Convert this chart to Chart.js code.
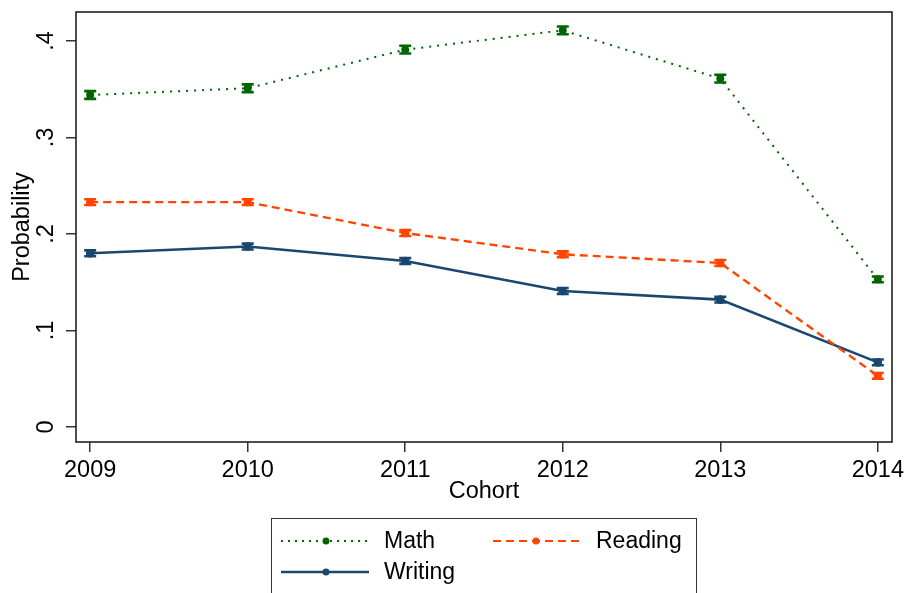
<!DOCTYPE html>
<html>
<head>
<meta charset="utf-8">
<script src="https://cdn.jsdelivr.net/npm/chart.js@4.4.1/dist/chart.umd.min.js"></script>
<style>
    body { margin: 0; background: #fff; }
    .wrap { position: relative; width: 906px; height: 593px; overflow: hidden; font-family: 'Liberation Sans', Arial, sans-serif; }
    .legenda { position: absolute; left: 271px; top: 518px; width: 424px; height: 90px; border: 1px solid #333; }
    .amostra { position: absolute; }
    .rotulo { position: absolute; font-size: 23px; line-height: 23px; color: #000; }
</style>
</head>
<body>
<div class="wrap">
    <canvas id="grafico" width="906" height="593"></canvas>
    <div class="legenda"></div>
    <svg class="amostra" style="left:281px;top:536px" width="88" height="10">
        <line x1="0" y1="5" x2="88" y2="5" stroke="#006400" stroke-width="2" stroke-dasharray="2 5"/>
        <circle cx="45" cy="5" r="3.5" fill="#006400"/>
    </svg>
    <div class="rotulo" style="left:384px;top:529px">Math</div>
    <svg class="amostra" style="left:493px;top:536px" width="88" height="10">
        <line x1="0" y1="5" x2="88" y2="5" stroke="#ff4500" stroke-width="2.2" stroke-dasharray="8 5"/>
        <circle cx="43" cy="5" r="3.5" fill="#ff4500"/>
    </svg>
    <div class="rotulo" style="left:596px;top:529px">Reading</div>
    <svg class="amostra" style="left:281px;top:567px" width="88" height="10">
        <line x1="0" y1="5" x2="88" y2="5" stroke="#1a476f" stroke-width="2.5"/>
        <circle cx="45" cy="5" r="3.5" fill="#1a476f"/>
    </svg>
    <div class="rotulo" style="left:384px;top:560px">Writing</div>
</div>
<script>
const coortes = [2009, 2010, 2011, 2012, 2013, 2014];
const probMath = [0.344, 0.351, 0.391, 0.411, 0.361, 0.153];
const probReading = [0.233, 0.233, 0.201, 0.179, 0.170, 0.053];
const probWriting = [0.180, 0.187, 0.172, 0.141, 0.132, 0.067];
const erroMath = [0.004, 0.004, 0.004, 0.004, 0.004, 0.003];
const erroReading = [0.003, 0.003, 0.003, 0.003, 0.003, 0.003];
const erroWriting = [0.003, 0.003, 0.003, 0.003, 0.003, 0.003];
const ticksY = [0, 0.1, 0.2, 0.3, 0.4];

const pontos = (valores) => coortes.map((c, i) => ({ x: c, y: valores[i] }));

const barrasErro = {
    id: 'barrasErro',
    afterDatasetsDraw(chart) {
        const ctx = chart.ctx;
        const y = chart.scales.y;
        chart.data.datasets.forEach((ds, i) => {
            const meta = chart.getDatasetMeta(i);
            ctx.save();
            ctx.strokeStyle = ds.borderColor;
            ctx.lineWidth = 2.6;
            meta.data.forEach((p, j) => {
                const v = ds.data[j].y;
                const topo = y.getPixelForValue(v + ds.erro[j]);
                const base = y.getPixelForValue(v - ds.erro[j]);
                ctx.beginPath();
                ctx.moveTo(p.x, topo); ctx.lineTo(p.x, base);
                ctx.moveTo(p.x - 6, topo); ctx.lineTo(p.x + 6, topo);
                ctx.moveTo(p.x - 6, base); ctx.lineTo(p.x + 6, base);
                ctx.stroke();
            });
            ctx.restore();
        });
    }
};

const moldura = {
    id: 'moldura',
    afterDraw(chart) {
        const { left, top, right, bottom } = chart.chartArea;
        const ctx = chart.ctx;
        ctx.save();
        ctx.strokeStyle = '#222';
        ctx.lineWidth = 1.6;
        ctx.strokeRect(left, top, right - left, bottom - top);
        ctx.restore();
    }
};

Chart.defaults.font.family = "'Liberation Sans', Arial, sans-serif";
Chart.defaults.font.size = 23.5;
Chart.defaults.color = '#000';

new Chart(document.getElementById('grafico').getContext('2d'), {
    type: 'line',
    data: {
        datasets: [{
            label: 'Math',
            data: pontos(probMath),
            erro: erroMath,
            borderColor: '#006400',
            backgroundColor: '#006400',
            borderWidth: 2,
            borderDash: [2, 6],
            pointRadius: 3
        }, {
            label: 'Reading',
            data: pontos(probReading),
            erro: erroReading,
            borderColor: '#ff4500',
            backgroundColor: '#ff4500',
            borderWidth: 2.4,
            borderDash: [8, 5],
            pointRadius: 3
        }, {
            label: 'Writing',
            data: pontos(probWriting),
            erro: erroWriting,
            borderColor: '#1a476f',
            backgroundColor: '#1a476f',
            borderWidth: 2.6,
            pointRadius: 3
        }]
    },
    options: {
        responsive: false,
        animation: false,
        events: [],
        layout: { padding: { top: 12, right: 14, bottom: 87, left: 0 } },
        plugins: {
            legend: { display: false },
            tooltip: { enabled: false }
        },
        scales: {
            x: {
                type: 'linear',
                min: 2008.91,
                max: 2014.09,
                afterBuildTicks: (s) => { s.ticks = coortes.map(v => ({ value: v })); },
                afterFit: (s) => { s.height = 64; s.paddingLeft = 0; s.paddingRight = 0; },
                ticks: { padding: 4, callback: (v) => String(v) },
                grid: { drawOnChartArea: false, tickLength: 10, color: '#333', lineWidth: 1.5 },
                border: { display: false },
                title: { display: true, text: 'Cohort', padding: 0 }
            },
            y: {
                min: -0.0155,
                max: 0.43,
                afterBuildTicks: (s) => { s.ticks = ticksY.map(v => ({ value: v })); },
                afterFit: (s) => { s.width = 76; s.paddingTop = 0; s.paddingBottom = 0; },
                ticks: {
                    minRotation: 90,
                    maxRotation: 90,
                    crossAlign: 'center',
                    padding: 10,
                    callback: (v) => v === 0 ? '0' : v.toFixed(1).replace(/^0/, '')
                },
                grid: { drawOnChartArea: false, tickLength: 10, color: '#333', lineWidth: 1.5 },
                border: { display: false },
                title: { display: true, text: 'Probability', padding: { top: 8, bottom: 0 } }
            }
        }
    },
    plugins: [barrasErro, moldura]
});
</script>
</body>
</html>
